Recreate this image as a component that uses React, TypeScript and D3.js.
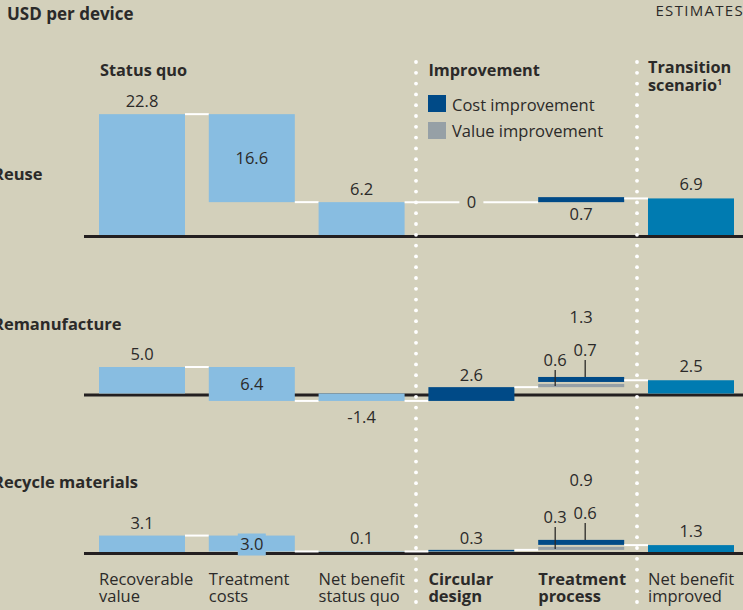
import React from 'react';
import * as d3 from 'd3';

const rows = ['Reuse', 'Remanufacture', 'Recycle materials'];
const categories = ['Recoverable value', 'Treatment costs', 'Net benefit status quo', 'Circular design', 'Treatment process', 'Net benefit improved'];
const categoryLines = [['Recoverable', 'value'], ['Treatment', 'costs'], ['Net benefit', 'status quo'], ['Circular', 'design'], ['Treatment', 'process'], ['Net benefit', 'improved']];
const boldCategory = [false, false, false, true, true, false];

const recoverable = [22.8, 5.0, 3.1];
const treatmentCosts = [16.6, 6.4, 3.0];
const netStatusQuo = [6.2, -1.4, 0.1];
const circularDesign = [0, 2.6, 0.3];
const processCost = [0.7, 0.7, 0.6];
const processValue = [0, 0.6, 0.3];
const processTotal = [0.7, 1.3, 0.9];
const netImproved = [6.9, 2.5, 1.3];

const BG = '#d3d0bb';
const LIGHT = '#88bde1';
const DARK = '#004a87';
const GRAY = '#96a0a6';
const TEAL = '#007bb1';
const INK = '#2b2a29';
const FONT = '"Open Sans", "DejaVu Sans", sans-serif';

const fmt = (v: number) => (v === 0 ? '0' : d3.format('.1f')(v).replace('\u2212', '-'));

export default function App() {
  const W = 743, H = 610;
  const x = d3.scaleBand<string>().domain(categories).range([99, 734]).paddingInner(0.2167).paddingOuter(0);
  const bw = x.bandwidth();
  const rowY = d3.scalePoint<string>().domain(rows).range([235, 552]);
  const unit = 5.3;
  const dividers = [416, 637];
  const dots = d3.range(62, 612, 10.8);

  const panels = rows.map((row, i) => {
    const base = rowY(row)!;
    const y = d3.scaleLinear().domain([0, 1]).range([base, base - unit]);
    const rec = recoverable[i];
    const net = netStatusQuo[i];
    const circ = circularDesign[i];
    const afterCirc = net + circ;
    const imp = netImproved[i];
    const els: React.ReactNode[] = [];
    const key = (s: string) => `${i}-${s}`;
    const xs = categories.map((c) => x(c)!);
    const cx = (k: number) => xs[k] + bw / 2;

    els.push(<rect key={key('base')} x={84} y={base} width={W - 84} height={3} fill="#231f20" />);

    const bar = (k: number, v0: number, v1: number, color: string, minH = 0, name = '') => {
      const top = y(Math.max(v0, v1));
      const bot = y(Math.min(v0, v1));
      const h = Math.max(bot - top, minH);
      els.push(<rect key={key('bar' + k + name)} x={xs[k]} y={top} width={bw} height={h} fill={color} />);
      return { top, bot: top + h };
    };
    const label = (t: string, lx: number, ly: number, anchor = 'middle') => {
      els.push(
        <text key={key('lbl' + t + lx + ly)} x={lx} y={ly} textAnchor={anchor} fontFamily={FONT} fontSize={16.5} fill={INK}>{t}</text>
      );
    };
    const conn = (x0: number, x1: number, v: number, name: string) => {
      els.push(<line key={key('c' + name)} x1={x0} x2={x1} y1={y(v)} y2={y(v)} stroke="#ffffff" strokeWidth={2} />);
    };

    // Recoverable value
    const b0 = bar(0, 0, rec, LIGHT);
    label(fmt(rec), cx(0), b0.top - 7);
    conn(xs[0] + bw, xs[1], rec, '01');

    // Treatment costs
    const b1 = bar(1, rec, rec - treatmentCosts[i], LIGHT);
    const mid1 = (b1.top + b1.bot) / 2;
    if (b1.bot - b1.top < 20) {
      els.push(<rect key={key('box1')} x={cx(1) - 14} y={mid1 - 10} width={28} height={22} fill={LIGHT} />);
    }
    label(fmt(treatmentCosts[i]), cx(1), mid1 + 6);
    conn(xs[1] + bw, xs[2], net, '12');

    // Net benefit status quo
    const b2 = bar(2, 0, net, LIGHT);
    if (net >= 0) label(fmt(net), cx(2), b2.top - 7);
    else label(fmt(net), cx(2), b2.bot + 22);

    // Circular design
    if (circ === 0) {
      const ly = y(net);
      els.push(<line key={key('c23a')} x1={xs[2] + bw} x2={cx(3) - 12} y1={ly} y2={ly} stroke="#fff" strokeWidth={2} />);
      els.push(<line key={key('c23b')} x1={cx(3) + 12} x2={xs[4]} y1={ly} y2={ly} stroke="#fff" strokeWidth={2} />);
      label(fmt(circ), cx(3), ly + 6);
    } else {
      conn(xs[2] + bw, xs[3], net, '23');
      const b3 = bar(3, net, afterCirc, DARK);
      label(fmt(circ), cx(3), b3.top - 6);
      conn(xs[3] + bw, xs[4], afterCirc, '34');
    }

    // Treatment process (stacked value + cost)
    const pv = processValue[i];
    const pc = processCost[i];
    const stackBottom = y(afterCirc);
    let grayTop = stackBottom;
    if (pv > 0) {
      const hg = Math.max(y(afterCirc) - y(afterCirc + pv), 3);
      grayTop = stackBottom - hg;
      els.push(<rect key={key('gray')} x={xs[4]} y={grayTop} width={bw} height={hg} fill={GRAY} />);
    }
    const darkBottom = pv > 0 ? grayTop - 2 : stackBottom;
    const hd = Math.max(y(afterCirc + pv) - y(afterCirc + pv + pc), 5);
    const darkTop = darkBottom - hd;
    els.push(<rect key={key('dark')} x={xs[4]} y={darkTop} width={bw} height={hd} fill={DARK} />);
    if (pv === 0) {
      label(fmt(pc), cx(4), darkBottom + 18);
    } else {
      label(fmt(processTotal[i]), cx(4), darkTop - 54);
      const lx = xs[4] + 17;
      const rx = xs[4] + 47;
      const vy = darkTop - (i === 1 ? 11 : 17);
      const cy = darkTop - 21;
      label(fmt(pv), lx, vy);
      label(fmt(pc), rx, cy);
      els.push(<line key={key('lv')} x1={lx} x2={lx} y1={vy + 4} y2={grayTop + 2} stroke={INK} strokeWidth={1.3} />);
      els.push(<line key={key('lc')} x1={rx} x2={rx} y1={cy + 4} y2={darkTop} stroke={INK} strokeWidth={1.3} />);
    }
    conn(xs[4] + bw, xs[5], imp, '45');

    // Net benefit improved
    const b5 = bar(5, 0, imp, TEAL);
    label(fmt(imp), cx(5), b5.top - 8);

    els.push(
      <text key={key('row')} x={-7} y={base - (i === 0 ? 55 : 64)} fontFamily={FONT} fontWeight={700} fontSize={16.5} fill={INK}>{row}</text>
    );
    return <g key={row}>{els}</g>;
  });

  const hdr = { fontFamily: FONT, fontWeight: 700, fontSize: 16.3, fill: INK } as const;

  return (
    <svg width={W} height={H} style={{ position: 'absolute', left: 0, top: 0 }}>
      <rect x={0} y={0} width={W} height={H} fill={BG} />
      <text x={7} y={20} fontFamily={FONT} fontWeight={700} fontSize={17} fill={INK}>USD per device</text>
      <text x={744} y={16} textAnchor="end" fontFamily={FONT} fontSize={15} fill={INK} letterSpacing={1.3}>ESTIMATES</text>

      <text x={x(categories[0])! + 1} y={76} {...hdr}>Status quo</text>
      <text x={x(categories[3])!} y={76} {...hdr}>Improvement</text>
      <text x={x(categories[5])!} y={73} {...hdr}>Transition</text>
      <text x={x(categories[5])!} y={91} {...hdr}>scenario<tspan fontSize={9} dy={-6}>1</tspan></text>

      <rect x={428} y={95} width={18} height={17} fill={DARK} />
      <text x={452} y={111} fontFamily={FONT} fontSize={16.5} fill={INK}>Cost improvement</text>
      <rect x={428} y={122} width={18} height={17} fill={GRAY} />
      <text x={452} y={137} fontFamily={FONT} fontSize={16.5} fill={INK}>Value improvement</text>

      {panels}

      {categories.map((c, k) => (
        <text key={c} x={x(c)!} y={585} fontFamily={FONT} fontSize={16.5} fontWeight={boldCategory[k] ? 700 : 400} fill={INK}>
          <tspan x={x(c)!}>{categoryLines[k][0]}</tspan>
          <tspan x={x(c)!} dy={17}>{categoryLines[k][1]}</tspan>
        </text>
      ))}

      {dividers.map((dx) => (
        <g key={dx}>
          {dots.map((dy) => (
            <circle key={dy} cx={dx} cy={dy} r={1.9} fill="#ffffff" />
          ))}
        </g>
      ))}
    </svg>
  );
}
